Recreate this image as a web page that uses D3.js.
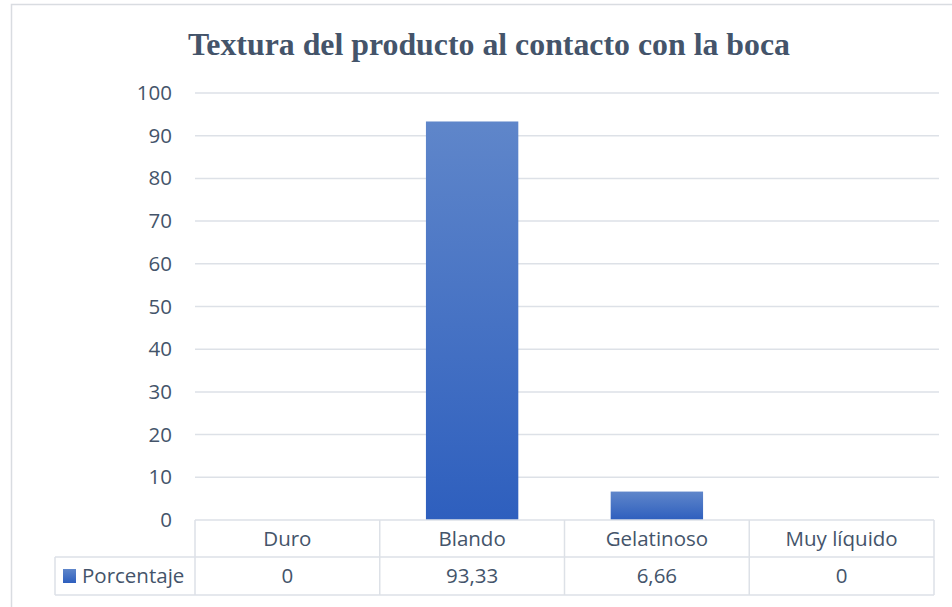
<!DOCTYPE html>
<html>
<head>
<meta charset="utf-8">
<script src="https://cdn.jsdelivr.net/npm/d3@7"></script>
<style>
  body { margin: 0; background: #fff; }
  svg { display: block; }
</style>
</head>
<body>
<script>
(function(d3) {

  // Chart data
  var categories = ['Duro', 'Blando', 'Gelatinoso', 'Muy líquido'];
  var seriesName = 'Porcentaje';
  var values = [0, 93.33, 6.66, 0];
  var valueLabels = ['0', '93,33', '6,66', '0'];
  var yTicks = [0, 10, 20, 30, 40, 50, 60, 70, 80, 90, 100];

  var width = 952, height = 607;
  var textColor = '#44546A', gridColor = '#DDE1E7';
  var font = '"Open Sans", sans-serif', fontSize = 20.5;

  var svg = d3.select('body').append('svg')
    .attr('width', width)
    .attr('height', height);

  // Gradient used by the bars (lighter on top).
  var grad = svg.append('defs').append('linearGradient')
    .attr('id', 'barGrad')
    .attr('x1', 0).attr('y1', 0).attr('x2', 0).attr('y2', 1);
  grad.append('stop').attr('offset', '0%').attr('stop-color', '#5F86CA');
  grad.append('stop').attr('offset', '100%').attr('stop-color', '#2E5FBE');

  // Outer chart border (only the left / top edges are visible in the frame).
  svg.append('rect')
    .attr('x', 11.5).attr('y', 4.5)
    .attr('width', 960).attr('height', 620)
    .attr('fill', 'none')
    .attr('stroke', '#D9DCE1')
    .attr('stroke-width', 1.5);

  var plot = { left: 195, right: 934, top: 93, bottom: 520 };

  var x = d3.scaleBand()
    .domain(categories)
    .range([plot.left, plot.right])
    .paddingInner(0).paddingOuter(0);

  var y = d3.scaleLinear()
    .domain([0, 100])
    .range([plot.bottom, plot.top]);

  // Title (condensed serif look)
  svg.append('text')
    .attr('x', 489).attr('y', 55)
    .attr('text-anchor', 'middle')
    .attr('font-family', '"Liberation Serif", "Times New Roman", serif')
    .attr('font-weight', 'bold')
    .attr('font-size', 32)
    .attr('textLength', 602)
    .attr('lengthAdjust', 'spacingAndGlyphs')
    .attr('fill', textColor)
    .text('Textura del producto al contacto con la boca');

  // Gridlines
  svg.append('g')
    .selectAll('line')
    .data(yTicks.filter(function(t) { return t > 0; }))
    .join('line')
    .attr('x1', plot.left).attr('x2', plot.right + 5)
    .attr('y1', function(d) { return y(d); })
    .attr('y2', function(d) { return y(d); })
    .attr('stroke', gridColor)
    .attr('stroke-width', 1.5);

  // Y axis labels
  var yAxis = d3.axisLeft(y).tickValues(yTicks).tickSize(0).tickPadding(23);
  var gy = svg.append('g')
    .attr('transform', 'translate(' + plot.left + ',0)')
    .call(yAxis);
  gy.select('.domain').remove();
  gy.selectAll('text')
    .attr('font-family', font)
    .attr('font-size', fontSize)
    .attr('fill', textColor);

  // Bars
  svg.append('g')
    .selectAll('rect')
    .data(values)
    .join('rect')
    .attr('x', function(d, i) { return x(categories[i]) + x.bandwidth() / 4; })
    .attr('width', x.bandwidth() / 2)
    .attr('y', function(d) { return y(d); })
    .attr('height', function(d) { return y(0) - y(d); })
    .attr('fill', 'url(#barGrad)');

  // Data table under the plot
  var rowH = 37, tableLeft = 55;
  var row1Top = plot.bottom, row2Top = plot.bottom + rowH, tableBottom = plot.bottom + rowH * 2 + 1;
  var table = svg.append('g')
    .attr('stroke', gridColor)
    .attr('stroke-width', 1.5)
    .attr('fill', 'none');

  // horizontal lines
  table.append('line').attr('x1', plot.left).attr('x2', plot.right)
    .attr('y1', row1Top).attr('y2', row1Top);
  table.append('line').attr('x1', tableLeft).attr('x2', plot.right)
    .attr('y1', row2Top).attr('y2', row2Top);
  table.append('line').attr('x1', tableLeft).attr('x2', plot.right)
    .attr('y1', tableBottom).attr('y2', tableBottom);

  // vertical lines
  var edges = categories.map(function(c) { return x(c); }).concat([plot.right]);
  table.selectAll('line.v')
    .data(edges)
    .join('line')
    .attr('class', 'v')
    .attr('x1', function(d) { return d; }).attr('x2', function(d) { return d; })
    .attr('y1', row1Top).attr('y2', tableBottom);
  table.append('line').attr('x1', tableLeft).attr('x2', tableLeft)
    .attr('y1', row2Top).attr('y2', tableBottom);

  svg.append('g')
    .selectAll('text')
    .data(categories)
    .join('text')
    .attr('x', function(d) { return x(d) + x.bandwidth() / 2; })
    .attr('y', row1Top + 26)
    .attr('text-anchor', 'middle')
    .attr('font-family', font)
    .attr('font-size', fontSize)
    .attr('fill', textColor)
    .text(function(d) { return d; });

  svg.append('g')
    .selectAll('text')
    .data(valueLabels)
    .join('text')
    .attr('x', function(d, i) { return x(categories[i]) + x.bandwidth() / 2; })
    .attr('y', row2Top + 26)
    .attr('text-anchor', 'middle')
    .attr('font-family', font)
    .attr('font-size', fontSize)
    .attr('fill', textColor)
    .text(function(d) { return d; });

  // Legend key in the table
  svg.append('rect')
    .attr('x', 63).attr('y', row2Top + 12)
    .attr('width', 13).attr('height', 14)
    .attr('fill', 'url(#barGrad)');
  svg.append('text')
    .attr('x', 82).attr('y', row2Top + 26)
    .attr('font-family', font)
    .attr('font-size', fontSize)
    .attr('fill', textColor)
    .text(seriesName);

})(d3);
</script>
</body>
</html>
